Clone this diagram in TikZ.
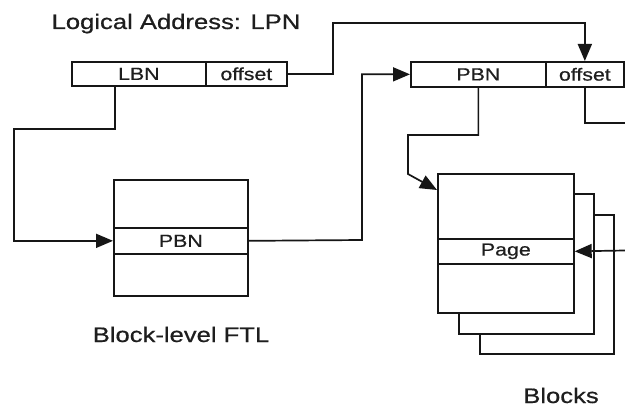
\documentclass[tikz,border=0pt]{standalone}
\usepackage{fontspec}
\setmainfont{Liberation Sans}[FakeStretch=1.22,FakeBold=0.6]
\usetikzlibrary{arrows.meta,calc}
\definecolor{ink}{HTML}{161616}
\definecolor{txt}{HTML}{1E1E1E}
\begin{document}
\begin{tikzpicture}[x=1pt,y=-1pt,
  line width=1.7pt, draw=ink,
  cell/.style={draw=ink, fill=white, anchor=north west, inner sep=0pt, text=txt,
    font=\fontsize{17.5}{19}\selectfont, line width=1.7pt},
  lbl/.style={anchor=base, inner sep=0pt, text=txt, font=\fontsize{21}{23}\selectfont},
  arr/.style={-{Triangle[length=17pt,width=14pt]}},
  conn/.style={draw=ink, line width=1.7pt}]
\fill[white] (0,0) rectangle (625,412);
\useasboundingbox (0,0) rectangle (625,412);

% Logical address
\node[cell, minimum width=134pt, minimum height=24pt] (lbn) at (71,61) {LBN};
\node[cell, minimum width=81pt, minimum height=24pt] (loff) at (205,61) {offset};
\node[lbl] (tla) at (176,29) {Logical Address: LPN};

% Physical address
\node[cell, minimum width=135pt, minimum height=25pt] (pbn) at (410,61) {PBN};
\node[cell, minimum width=78pt, minimum height=25pt] (poff) at (545,61) {offset};

% Block-level FTL table
\node[cell, minimum width=134pt, minimum height=48pt] (ftltop) at (113,179) {};
\node[cell, minimum width=134pt, minimum height=26pt] (ftlpbn) at (113,227) {PBN};
\node[cell, minimum width=134pt, minimum height=42pt] (ftlbot) at (113,253) {};
\node[lbl] (tftl) at (181,342) {Block-level FTL};

% Blocks
\node[cell, minimum width=134pt, minimum height=139pt] (b2) at (479,214) {};
\node[cell, minimum width=135pt, minimum height=140pt] (b1) at (458,193) {};
\node[cell, minimum width=136pt, minimum height=65pt] (b0top) at (437,173) {};
\node[cell, minimum width=136pt, minimum height=25pt] (page) at (437,238) {Page};
\node[cell, minimum width=136pt, minimum height=49pt] (b0bot) at (437,263) {};
\node[lbl] (tblk) at (561,403) {Blocks};

% connector coordinates
\coordinate (c1) at (333,23);
\coordinate (c2) at (14,129);
\coordinate (c3) at (362,240);
\coordinate (c4) at (408,135);
\coordinate (c5) at (408,174);
\coordinate (e1) at (625,123);
\coordinate (e2) at (625,250.5);

% connectors
\draw[conn, arr] (loff.east) -| (c1) -| (poff.north);
\draw[conn, arr] ([xshift=44pt]lbn.south west) |- (c2) |- (ftlpbn.west);
\draw[conn, arr] (ftlpbn.east) -- (c3) |- (pbn.west);
\draw[conn, arr] (pbn.south) |- (c4) -- (c5) -- ([yshift=-17pt]b0top.north west);
\draw[conn] (poff.south) |- (e1);
\draw[conn, arr] (e2) -- (page.east);
\end{tikzpicture}
\end{document}
